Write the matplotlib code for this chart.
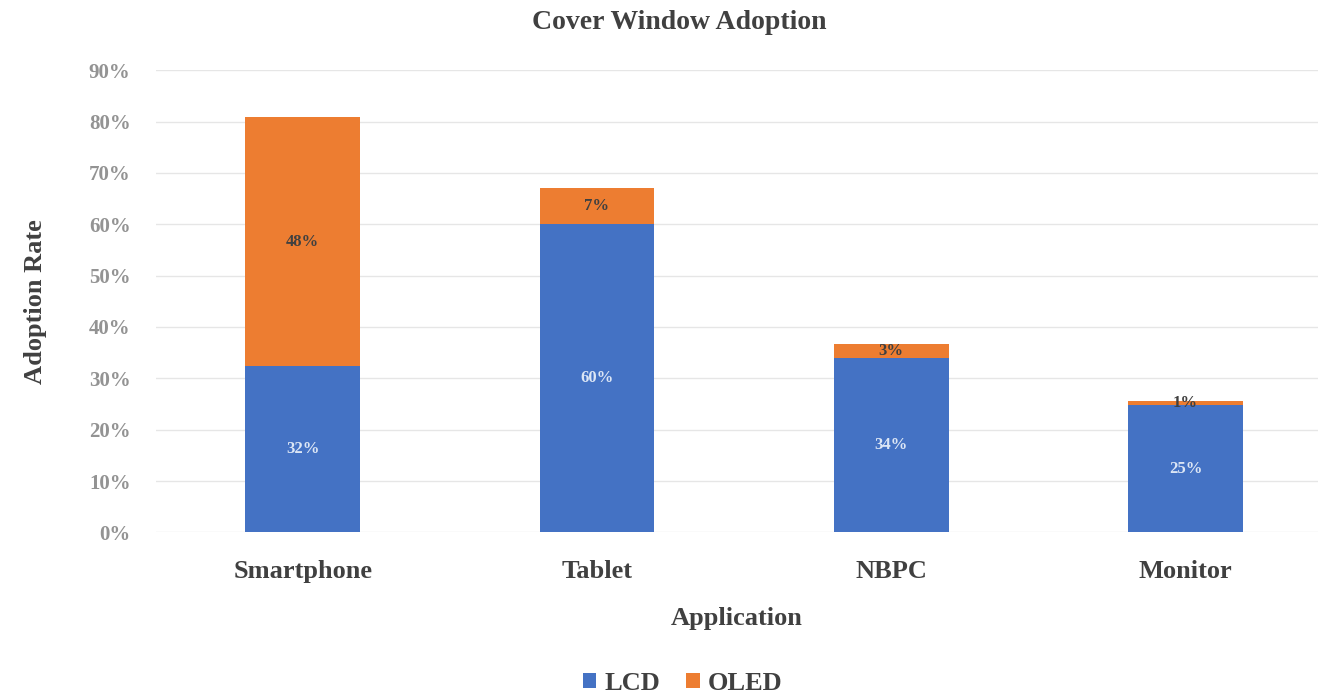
import matplotlib
matplotlib.use("Agg")
import matplotlib.pyplot as plt
import numpy as np
from matplotlib.ticker import PercentFormatter

categories = ["Smartphone", "Tablet", "NBPC", "Monitor"]
lcd = [32.4, 60.0, 34.0, 24.8]
oled = [48.4, 7.0, 2.6, 0.8]
lcd_labels = ["32%", "60%", "34%", "25%"]
oled_labels = ["48%", "7%", "3%", "1%"]
yticks = [0, 10, 20, 30, 40, 50, 60, 70, 80, 90]

blue = "#4472C4"
orange = "#ED7D31"
serif = ["Liberation Serif", "DejaVu Serif"]

fig = plt.figure(figsize=(13.18, 6.95), dpi=100)
ax = fig.add_axes([0.118, 0.234, 0.882, 0.665])

x = np.arange(len(categories))
w = 0.39
b1 = ax.bar(x, lcd, w, color=blue, label="LCD", zorder=3)
b2 = ax.bar(x, oled, w, bottom=lcd, color=orange, label="OLED", zorder=3)

for xi, v, lab in zip(x, lcd, lcd_labels):
    ax.text(xi, v / 2, lab, ha="center", va="center", color="#DCE6F5",
            fontsize=12, fontfamily=serif, fontweight="bold", zorder=4)
for xi, base, v, lab in zip(x, lcd, oled, oled_labels):
    ax.text(xi, base + v / 2, lab, ha="center", va="center", color="#404040",
            fontsize=12, fontfamily=serif, fontweight="bold", zorder=4)

ax.set_ylim(0, 90)
ax.set_xlim(-0.5, 3.45)
ax.set_yticks(yticks)
ax.yaxis.set_major_formatter(PercentFormatter(decimals=0))
ax.set_xticks(x)
ax.set_xticklabels(categories, fontfamily=serif, fontweight="bold", fontsize=19, color="#404040")
for t in ax.get_yticklabels():
    t.set_fontfamily(serif)
    t.set_fontweight("bold")
ax.tick_params(axis="y", labelsize=15, colors="#939393", length=0, pad=18)
ax.tick_params(axis="x", length=0, pad=20)
ax.grid(axis="y", color="#E6E6E6", linewidth=1, zorder=0)
for s in ax.spines.values():
    s.set_visible(False)

ax.set_ylabel("Adoption Rate", fontfamily=serif, fontweight="bold", fontsize=19,
              color="#404040", labelpad=30)
ax.set_xlabel("Application", fontfamily=serif, fontweight="bold", fontsize=19,
              color="#404040", labelpad=17)
fig.text(0.515, 0.968, "Cover Window Adoption", ha="center", va="center",
         fontfamily=serif, fontweight="bold", fontsize=20, color="#404040")

leg = fig.legend(handles=[b1, b2], labels=["LCD", "OLED"], loc="center",
                 bbox_to_anchor=(0.518, 0.017), ncol=2, frameon=False,
                 prop={"family": serif, "weight": "bold", "size": 19},
                 handlelength=0.5, handleheight=0.5, handletextpad=0.3, columnspacing=1.0)
for t in leg.get_texts():
    t.set_color("#404040")

fig.savefig("out.png", dpi=100)
